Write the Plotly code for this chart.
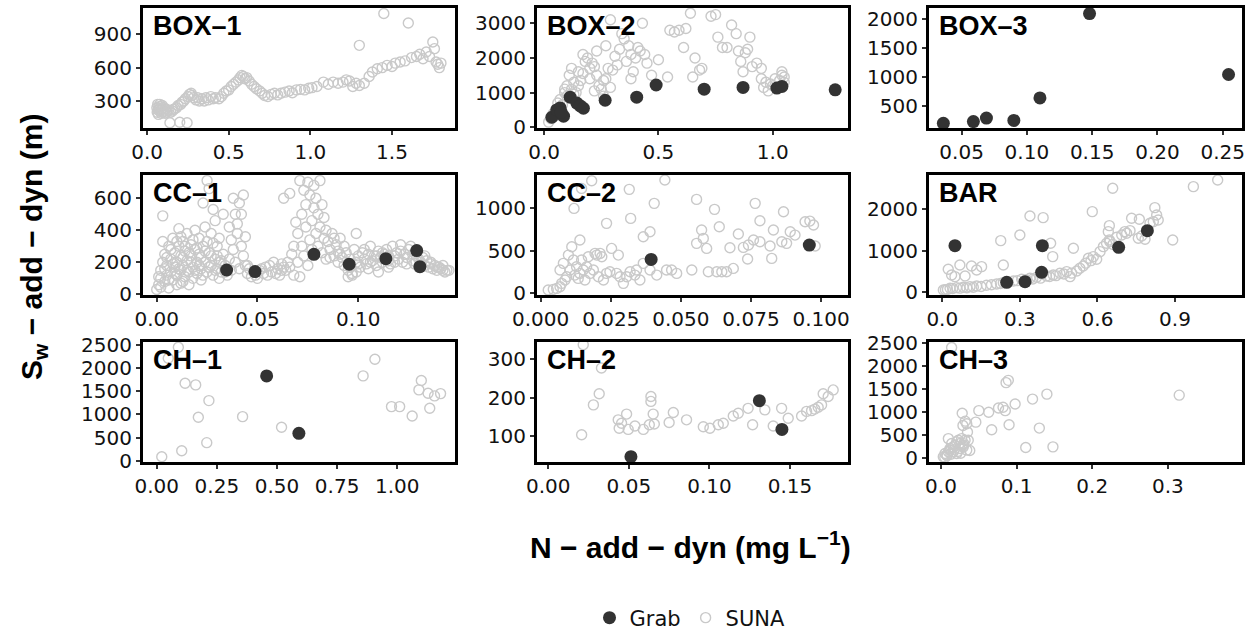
import plotly.graph_objects as go

# ---------------------------------------------------------------- data
# Each list holds (N-add-dyn [mg/L], Sw-add-dyn [m]) pairs.

box1_suna = [
    (0.06, 240), (0.062, 200), (0.065, 270), (0.068, 220), (0.07, 180), (0.072, 250),
    (0.075, 230), (0.078, 270), (0.08, 210), (0.083, 250), (0.086, 190), (0.09, 230),
    (0.093, 260), (0.096, 200), (0.1, 240), (0.105, 210), (0.11, 190), (0.115, 230),
    (0.12, 200), (0.13, 215), (0.14, 105), (0.145, 200), (0.155, 210), (0.16, 225),
    (0.17, 230), (0.18, 240), (0.19, 260), (0.2, 110), (0.205, 270), (0.215, 290),
    (0.225, 300), (0.235, 320), (0.245, 105), (0.25, 340), (0.26, 360), (0.27, 370),
    (0.275, 350), (0.285, 330), (0.3, 310), (0.31, 330), (0.32, 300), (0.335, 320),
    (0.35, 300), (0.36, 330), (0.375, 310), (0.39, 340), (0.405, 320), (0.42, 330),
    (0.44, 320), (0.455, 340), (0.47, 370), (0.485, 390), (0.5, 400), (0.515, 430),
    (0.53, 450), (0.545, 470), (0.56, 490), (0.57, 510), (0.58, 530), (0.59, 520),
    (0.6, 500), (0.61, 510), (0.625, 480), (0.64, 450), (0.655, 430), (0.67, 410),
    (0.69, 390), (0.705, 370), (0.72, 350), (0.74, 340), (0.76, 360), (0.78, 370),
    (0.8, 355), (0.82, 370), (0.845, 380), (0.87, 390), (0.89, 375), (0.915, 400),
    (0.94, 405), (0.965, 400), (0.99, 415), (1.01, 420), (1.04, 430), (1.08, 470),
    (1.11, 450), (1.14, 470), (1.17, 460), (1.2, 470), (1.22, 490), (1.24, 480),
    (1.26, 430), (1.28, 460), (1.3, 440), (1.3, 800), (1.33, 460), (1.36, 520),
    (1.38, 560), (1.41, 590), (1.44, 600), (1.45, 1085), (1.47, 620), (1.5, 610),
    (1.52, 640), (1.55, 650), (1.58, 660), (1.6, 1000), (1.62, 690), (1.65, 700),
    (1.67, 720), (1.69, 680), (1.71, 740), (1.73, 700), (1.75, 830), (1.76, 770),
    (1.77, 650), (1.78, 630), (1.79, 600), (1.8, 640),
]
box1_grab = []

box2_suna = [
    (0.02, 150), (0.03, 250), (0.04, 400), (0.05, 350), (0.06, 700), (0.07, 800),
    (0.08, 650), (0.09, 1100), (0.09, 1000), (0.1, 1200), (0.1, 900), (0.12, 1100),
    (0.13, 950), (0.14, 1000), (0.15, 1200), (0.16, 1350), (0.15, 1600), (0.17, 1550),
    (0.18, 1900), (0.17, 2100), (0.19, 2000), (0.2, 1700), (0.21, 1850), (0.22, 1750),
    (0.23, 1500), (0.24, 1200), (0.25, 1100), (0.26, 1350), (0.27, 1400), (0.28, 1700),
    (0.3, 1650), (0.31, 2050), (0.33, 2250), (0.34, 2700), (0.35, 2550), (0.36, 1900),
    (0.38, 1400), (0.39, 1600), (0.4, 2000), (0.41, 2300), (0.42, 2200), (0.43, 3000),
    (0.44, 2100), (0.45, 1850), (0.47, 1500), (0.5, 1950), (0.54, 1450), (0.55, 2800),
    (0.57, 2750), (0.59, 2800), (0.62, 2850), (0.61, 2300), (0.64, 3290), (0.65, 1450),
    (0.66, 2000), (0.68, 1650), (0.69, 1700), (0.73, 3200), (0.75, 3250), (0.76, 2600),
    (0.78, 2300), (0.8, 2300), (0.82, 2950), (0.84, 2700), (0.85, 2200), (0.86, 1900),
    (0.87, 1600), (0.88, 2150), (0.9, 2600), (0.89, 2250), (0.91, 1750), (0.93, 1850),
    (0.95, 1400), (0.95, 1700), (0.96, 1150), (0.97, 1300), (0.98, 1050), (0.99, 1250),
    (1.0, 1200), (1.01, 1400), (1.03, 1350), (1.04, 1500), (1.04, 1600), (1.05, 1450),
    (1.05, 1300), (0.32, 1800), (0.29, 1150), (0.26, 900), (0.22, 1050), (0.2, 1400),
    (0.12, 1700), (0.11, 1500), (0.13, 1300), (0.23, 2200), (0.27, 2350), (0.29, 3100),
    (0.37, 2350), (0.38, 2100),
]
box2_grab = [
    (0.034, 290), (0.055, 500), (0.07, 560), (0.085, 320), (0.075, 430), (0.114, 870),
    (0.143, 700), (0.158, 620), (0.172, 550), (0.267, 780), (0.405, 870), (0.49, 1220),
    (0.70, 1100), (0.87, 1150), (1.018, 1130), (1.04, 1180), (1.273, 1080),
]

box3_suna = []
box3_grab = [
    (0.036, 200), (0.059, 230), (0.069, 290), (0.09, 250), (0.11, 640),
    (0.148, 2100), (0.2545, 1045),
]

cc1_suna = [
    (0.0, 30), (0.001, 60), (0.002, 100), (0.002, 150), (0.003, 200), (0.003, 330),
    (0.003, 490), (0.004, 80), (0.004, 250), (0.005, 120), (0.005, 180), (0.006, 300),
    (0.006, 40), (0.007, 140), (0.007, 220), (0.008, 90), (0.008, 350), (0.009, 170),
    (0.009, 260), (0.01, 60), (0.01, 120), (0.01, 200), (0.011, 300), (0.011, 410),
    (0.012, 150), (0.012, 240), (0.013, 80), (0.013, 180), (0.013, 330), (0.014, 110),
    (0.014, 270), (0.015, 210), (0.015, 380), (0.016, 140), (0.016, 60), (0.017, 240),
    (0.017, 310), (0.018, 170), (0.018, 100), (0.019, 280), (0.019, 400), (0.02, 200),
    (0.02, 130), (0.021, 350), (0.021, 250), (0.022, 160), (0.022, 90), (0.023, 300),
    (0.023, 570), (0.024, 200), (0.024, 420), (0.025, 140), (0.025, 710), (0.026, 260),
    (0.026, 660), (0.027, 180), (0.027, 380), (0.028, 530), (0.028, 120), (0.029, 220),
    (0.029, 460), (0.03, 160), (0.03, 300), (0.031, 200), (0.031, 100), (0.032, 140),
    (0.033, 250), (0.033, 500), (0.034, 180), (0.035, 120), (0.036, 420), (0.036, 220),
    (0.037, 340), (0.037, 150), (0.038, 600), (0.038, 280), (0.039, 500), (0.039, 200),
    (0.04, 440), (0.04, 380), (0.041, 570), (0.041, 160), (0.042, 300), (0.042, 500),
    (0.043, 620), (0.043, 240), (0.044, 180), (0.044, 360), (0.045, 130), (0.046, 160),
    (0.047, 110), (0.048, 140), (0.05, 100), (0.052, 160), (0.053, 130), (0.055, 120),
    (0.056, 180), (0.057, 140), (0.058, 200), (0.06, 160), (0.061, 120), (0.062, 190),
    (0.063, 170), (0.063, 600), (0.064, 150), (0.065, 200), (0.066, 630), (0.066, 170),
    (0.067, 250), (0.068, 120), (0.068, 300), (0.069, 450), (0.07, 200), (0.07, 380),
    (0.071, 710), (0.071, 110), (0.072, 300), (0.072, 500), (0.073, 650), (0.073, 240),
    (0.074, 420), (0.074, 560), (0.075, 700), (0.075, 180), (0.076, 340), (0.076, 620),
    (0.077, 460), (0.077, 280), (0.078, 680), (0.078, 540), (0.079, 380), (0.079, 600),
    (0.08, 500), (0.08, 300), (0.081, 710), (0.081, 420), (0.082, 560), (0.082, 260),
    (0.083, 480), (0.083, 350), (0.084, 400), (0.084, 220), (0.085, 330), (0.086, 280),
    (0.087, 380), (0.088, 240), (0.089, 310), (0.09, 200), (0.09, 270), (0.091, 350),
    (0.092, 230), (0.093, 180), (0.094, 260), (0.095, 150), (0.095, 110), (0.096, 220),
    (0.097, 120), (0.097, 130), (0.098, 280), (0.099, 200), (0.099, 140), (0.099, 380),
    (0.1, 240), (0.101, 170), (0.102, 260), (0.103, 220), (0.104, 190), (0.105, 250),
    (0.106, 300), (0.107, 210), (0.108, 240), (0.109, 180), (0.11, 270), (0.111, 230),
    (0.112, 200), (0.113, 250), (0.114, 280), (0.115, 210), (0.116, 190), (0.117, 300),
    (0.118, 240), (0.119, 260), (0.12, 220), (0.121, 310), (0.122, 200), (0.123, 250),
    (0.124, 230), (0.125, 280), (0.126, 300), (0.127, 210), (0.128, 190), (0.129, 240),
    (0.13, 220), (0.131, 200), (0.132, 230), (0.133, 180), (0.134, 210), (0.135, 170),
    (0.136, 190), (0.137, 160), (0.138, 180), (0.139, 150), (0.14, 170), (0.141, 160),
    (0.142, 150), (0.143, 140), (0.144, 150),
    (0.001, 110), (0.002, 45), (0.004, 160), (0.005, 230), (0.006, 90), (0.007, 280),
    (0.008, 190), (0.009, 130), (0.01, 330), (0.011, 160), (0.012, 70), (0.012, 360),
    (0.013, 230), (0.014, 300), (0.015, 150), (0.016, 260), (0.017, 200), (0.018, 340),
    (0.019, 150), (0.02, 290), (0.021, 180), (0.022, 230), (0.023, 120), (0.024, 270),
    (0.025, 330), (0.026, 170), (0.027, 240), (0.028, 320), (0.029, 150), (0.03, 240),
    (0.031, 350), (0.032, 210), (0.034, 140), (0.045, 180), (0.049, 120), (0.051, 150),
    (0.054, 170), (0.059, 130), (0.062, 150), (0.086, 230), (0.088, 350), (0.091, 250),
    (0.093, 300), (0.096, 170), (0.1, 190), (0.103, 280), (0.106, 200), (0.109, 240),
    (0.112, 260), (0.115, 240), (0.118, 200), (0.121, 270), (0.124, 190), (0.127, 250),
    (0.13, 170), (0.133, 240), (0.136, 200), (0.139, 170), (0.142, 180), (0.145, 150),
    (0.11, 140), (0.105, 160), (0.115, 170),
]
cc1_grab = [
    (0.0347, 152), (0.0488, 142), (0.078, 250), (0.0955, 188), (0.1137, 223),
    (0.129, 273), (0.1306, 173),
]

cc2_suna = [
    (0.0027, 32), (0.0045, 40), (0.0057, 51), (0.0069, 71), (0.0075, 111), (0.0081, 348),
    (0.0069, 269), (0.0087, 150), (0.0093, 190), (0.0099, 446), (0.0105, 269), (0.0111, 545),
    (0.0117, 387), (0.0119, 999), (0.0122, 209), (0.0128, 308), (0.0134, 170), (0.014, 229),
    (0.014, 624), (0.0146, 387), (0.0146, 1236), (0.0152, 269), (0.0158, 150), (0.0164, 308),
    (0.017, 427), (0.0176, 229), (0.0182, 1327), (0.0188, 269), (0.0194, 466), (0.02, 446),
    (0.0206, 190), (0.0212, 466), (0.0218, 427), (0.0224, 150), (0.0235, 229), (0.0235, 822),
    (0.0247, 249), (0.0253, 525), (0.0271, 229), (0.0277, 446), (0.0283, 190), (0.0295, 111),
    (0.0307, 190), (0.0316, 1225), (0.0321, 881), (0.0319, 249), (0.0336, 209), (0.0342, 269),
    (0.0354, 150), (0.0366, 664), (0.0366, 348), (0.039, 723), (0.039, 269), (0.0405, 1059),
    (0.0414, 209), (0.0443, 1335), (0.0449, 269), (0.0467, 269), (0.0485, 229), (0.0539, 269),
    (0.0556, 1106), (0.0574, 743), (0.058, 644), (0.0556, 585), (0.0592, 525), (0.0598, 249),
    (0.062, 988), (0.0628, 249), (0.0637, 782), (0.0646, 249), (0.0663, 249), (0.0675, 533),
    (0.0687, 288), (0.0705, 695), (0.0723, 537), (0.0738, 399), (0.0741, 565), (0.0759, 624),
    (0.0765, 1059), (0.0782, 604), (0.0782, 853), (0.0818, 553), (0.0824, 407), (0.083, 743),
    (0.086, 604), (0.0866, 960), (0.0877, 585), (0.089, 723), (0.0907, 683), (0.0943, 841),
    (0.096, 849), (0.0973, 802), (0.0979, 553),
]
cc2_grab = [(0.0394, 395), (0.0958, 565)]

bar_suna = [
    (0.004, 56), (0.012, 60), (0.02, 70), (0.03, 96), (0.04, 90), (0.055, 112),
    (0.068, 100), (0.081, 120), (0.095, 110), (0.107, 136), (0.12, 120), (0.133, 152),
    (0.15, 140), (0.171, 168), (0.19, 180), (0.21, 200), (0.225, 210), (0.236, 232),
    (0.255, 240), (0.275, 272), (0.29, 280), (0.307, 312), (0.325, 300), (0.339, 336),
    (0.35, 320), (0.365, 360), (0.38, 340), (0.403, 392), (0.415, 380), (0.429, 416),
    (0.44, 400), (0.455, 456), (0.47, 440), (0.481, 496), (0.494, 376), (0.5, 460),
    (0.52, 512), (0.532, 576), (0.545, 632), (0.555, 700), (0.565, 816), (0.575, 760),
    (0.584, 856), (0.597, 792), (0.61, 976), (0.623, 1096), (0.635, 1176), (0.648, 1216),
    (0.66, 1150), (0.674, 1320), (0.694, 1376), (0.713, 1416), (0.726, 1480), (0.758, 1296),
    (0.771, 1352), (0.803, 1656), (0.816, 1696),
    (0.023, 552), (0.036, 416), (0.049, 376), (0.068, 656), (0.088, 392), (0.113, 632),
    (0.133, 536), (0.152, 616), (0.226, 1240), (0.236, 656), (0.3, 1376), (0.339, 1832),
    (0.39, 1792), (0.419, 1176), (0.427, 856), (0.507, 1056), (0.58, 1936), (0.659, 2496),
    (0.646, 1600), (0.642, 1456), (0.646, 1256), (0.706, 1456), (0.732, 1776), (0.762, 1752),
    (0.784, 1272), (0.822, 2032), (0.829, 1856), (0.835, 1736), (0.891, 1256), (0.971, 2536),
    (1.065, 2696),
]
bar_grab = [
    (0.049, 1120), (0.249, 240), (0.32, 256), (0.387, 1120), (0.384, 480),
    (0.682, 1080), (0.793, 1480),
]

ch1_suna = [
    (0.021, 87), (0.104, 216), (0.208, 390), (0.173, 938), (0.217, 1299), (0.118, 1674),
    (0.162, 1638), (0.09, 2450), (0.048, 2215), (0.357, 952), (0.519, 722), (0.858, 1833),
    (0.907, 2193), (0.976, 1169), (1.01, 1169), (1.062, 967), (1.1, 1732), (1.09, 1530),
    (1.128, 1457), (1.135, 1133), (1.18, 1450), (1.155, 1400),
]
ch1_grab = [(0.457, 1833), (0.591, 592)]

ch2_suna = [
    (0.0207, 103), (0.0217, 338), (0.028, 181), (0.0316, 210), (0.033, 277), (0.0434, 142),
    (0.044, 120), (0.0455, 133), (0.0486, 157), (0.0496, 117), (0.0538, 126), (0.059, 117),
    (0.0627, 129), (0.0637, 203), (0.0637, 190), (0.0651, 157), (0.0658, 131), (0.075, 135),
    (0.0776, 161), (0.0858, 142), (0.0962, 124), (0.1003, 120), (0.1055, 129), (0.1086, 133),
    (0.1148, 152), (0.1179, 159), (0.124, 172), (0.1268, 129), (0.1344, 168), (0.1448, 172),
    (0.1396, 126), (0.1489, 146), (0.1572, 152), (0.1603, 164), (0.1634, 166), (0.1654, 170),
    (0.1675, 175), (0.1696, 181), (0.1706, 210), (0.1737, 203), (0.1768, 220),
]
ch2_grab = [(0.0513, 46), (0.131, 192), (0.145, 117)]

ch3_suna = [
    (0.003, 36), (0.0053, 107), (0.0075, 72), (0.0097, 143), (0.0119, 179), (0.0141, 322),
    (0.0163, 250), (0.0185, 286), (0.0207, 358), (0.0229, 393), (0.0251, 322), (0.0273, 429),
    (0.0295, 250), (0.0318, 393), (0.034, 179), (0.0207, 107), (0.0163, 143), (0.0119, 215),
    (0.0251, 215), (0.0295, 286), (0.036, 393), (0.0097, 429), (0.005, 20), (0.008, 60),
    (0.013, 90), (0.018, 200), (0.022, 150), (0.026, 110), (0.03, 320), (0.038, 170),
    (0.014, 2410), (0.086, 1645), (0.089, 1695), (0.14, 1395), (0.121, 1288), (0.098, 1180),
    (0.082, 1109), (0.076, 1094), (0.085, 1037), (0.063, 1001), (0.05, 1037), (0.028, 980),
    (0.032, 808), (0.034, 751), (0.029, 715), (0.046, 787), (0.035, 572), (0.067, 622),
    (0.09, 730), (0.13, 658), (0.112, 236), (0.148, 250), (0.315, 1373),
]
ch3_grab = []

# tick positions and labels per panel
box1_xticks, box1_xlabels = [0, 0.5, 1.0, 1.5], ["0.0", "0.5", "1.0", "1.5"]
box1_yticks = [300, 600, 900]
box2_xticks, box2_xlabels = [0, 0.5, 1.0], ["0.0", "0.5", "1.0"]
box2_yticks = [0, 1000, 2000, 3000]
box3_xticks, box3_xlabels = [0.05, 0.10, 0.15, 0.20, 0.25], ["0.05", "0.10", "0.15", "0.20", "0.25"]
box3_yticks = [500, 1000, 1500, 2000]
cc1_xticks, cc1_xlabels = [0, 0.05, 0.10], ["0.00", "0.05", "0.10"]
cc1_yticks = [0, 200, 400, 600]
cc2_xticks, cc2_xlabels = [0, 0.025, 0.05, 0.075, 0.1], ["0.000", "0.025", "0.050", "0.075", "0.100"]
cc2_yticks = [0, 500, 1000]
bar_xticks, bar_xlabels = [0, 0.3, 0.6, 0.9], ["0.0", "0.3", "0.6", "0.9"]
bar_yticks = [0, 1000, 2000]
ch1_xticks, ch1_xlabels = [0, 0.25, 0.5, 0.75, 1.0], ["0.00", "0.25", "0.50", "0.75", "1.00"]
ch1_yticks = [0, 500, 1000, 1500, 2000, 2500]
ch2_xticks, ch2_xlabels = [0, 0.05, 0.10, 0.15], ["0.00", "0.05", "0.10", "0.15"]
ch2_yticks = [100, 200, 300]
ch3_xticks, ch3_xlabels = [0, 0.1, 0.2, 0.3], ["0.0", "0.1", "0.2", "0.3"]
ch3_yticks = [0, 500, 1000, 1500, 2000, 2500]

site_names = ["BOX–1", "BOX–2", "BOX–3", "CC–1", "CC–2", "BAR", "CH–1", "CH–2", "CH–3"]

# ---------------------------------------------------------------- layout
W, H = 1255, 638
GRAB_COLOR = "#333333"
SUNA_COLOR = "#c9c9c9"
TICK_FONT = dict(family="DejaVu Sans", size=20, color="#111111")
TITLE_FONT = "Liberation Sans, Arial, sans-serif"

col_px = [(143, 455), (537, 848), (929, 1242)]
row_px = [(8, 128), (175, 295), (342, 462)]

panels = [
    (box1_suna, box1_grab, [-0.025, 1.886], [58, 1135], box1_xticks, box1_xlabels, box1_yticks),
    (box2_suna, box2_grab, [-0.031, 1.329], [-20, 3440], box2_xticks, box2_xlabels, box2_yticks),
    (box3_suna, box3_grab, [0.025, 0.2648], [119, 2196], box3_xticks, box3_xlabels, box3_yticks),
    (cc1_suna, cc1_grab, [-0.0068, 0.148], [-4, 745], cc1_xticks, cc1_xlabels, cc1_yticks),
    (cc2_suna, cc2_grab, [-0.0013, 0.1096], [-27, 1395], cc2_xticks, cc2_xlabels, cc2_yticks),
    (bar_suna, bar_grab, [-0.0514, 1.159], [-65, 2815], bar_xticks, bar_xlabels, bar_yticks),
    (ch1_suna, ch1_grab, [-0.057, 1.24], [-28, 2565], ch1_xticks, ch1_xlabels, ch1_yticks),
    (ch2_suna, ch2_grab, [-0.007, 0.186], [32, 345], ch2_xticks, ch2_xlabels, ch2_yticks),
    (ch3_suna, ch3_grab, [-0.0159, 0.398], [-79, 2528], ch3_xticks, ch3_xlabels, ch3_yticks),
]

fig = go.Figure()
layout = {}
annotations = []
legend_done = {"Grab": False, "SUNA": False}

for i, (suna, grab, xr, yr, xt, xl, yt) in enumerate(panels):
    r, c = divmod(i, 3)
    n = "" if i == 0 else str(i + 1)
    x0, x1 = col_px[c]
    y0, y1 = row_px[r]

    axis_common = dict(
        showline=True, linewidth=3, linecolor="black", mirror=True,
        ticks="outside", ticklen=4, tickwidth=1.5, tickcolor="#333333",
        showgrid=False, zeroline=False, tickfont=TICK_FONT, fixedrange=True,
        automargin=False,
    )
    layout["xaxis" + n] = dict(
        axis_common, domain=[x0 / W, x1 / W], anchor="y" + n, range=xr,
        tickmode="array", tickvals=xt, ticktext=xl,
    )
    layout["yaxis" + n] = dict(
        axis_common, domain=[1 - y1 / H, 1 - y0 / H], anchor="x" + n, range=yr,
        tickmode="array", tickvals=yt, ticktext=[str(v) for v in yt],
    )

    if suna:
        fig.add_trace(go.Scatter(
            x=[p[0] for p in suna], y=[p[1] for p in suna], mode="markers",
            xaxis="x" + n, yaxis="y" + n, name="SUNA", legendgroup="SUNA", legendrank=2,
            showlegend=not legend_done["SUNA"],
            marker=dict(symbol="circle-open", size=10, color=SUNA_COLOR, line=dict(width=1.4)),
        ))
        legend_done["SUNA"] = True
    if grab:
        fig.add_trace(go.Scatter(
            x=[p[0] for p in grab], y=[p[1] for p in grab], mode="markers",
            xaxis="x" + n, yaxis="y" + n, name="Grab", legendgroup="Grab", legendrank=1,
            showlegend=not legend_done["Grab"],
            marker=dict(symbol="circle", size=13, color=GRAB_COLOR, line=dict(width=0)),
        ))
        legend_done["Grab"] = True

    annotations.append(dict(
        text="<b>%s</b>" % site_names[i], xref="paper", yref="paper",
        x=(x0 + 8) / W, y=1 - (y0 + 1) / H, xanchor="left", yanchor="top",
        showarrow=False, font=dict(family=TITLE_FONT, size=27, color="black"),
    ))

annotations.append(dict(
    text="<b>N − add − dyn (mg L<sup>−1</sup>)</b>", xref="paper", yref="paper",
    x=690 / W, y=1 - 545 / H, xanchor="center", yanchor="middle", showarrow=False,
    font=dict(family=TITLE_FONT, size=30, color="black"),
))
annotations.append(dict(
    text="<b>S<sub>w</sub> − add − dyn (m)</b>", xref="paper", yref="paper",
    x=33 / W, y=1 - 247 / H, xanchor="center", yanchor="middle", textangle=-90,
    showarrow=False, font=dict(family=TITLE_FONT, size=30, color="black"),
))

fig.update_layout(
    **layout,
    template="none",
    annotations=annotations,
    width=W, height=H, autosize=False,
    margin=dict(l=0, r=0, t=0, b=0, autoexpand=False),
    paper_bgcolor="white", plot_bgcolor="white",
    showlegend=True,
    legend=dict(
        orientation="h", x=690 / W, xanchor="center", y=1 - 618 / H, yanchor="middle",
        font=dict(family="DejaVu Sans", size=21, color="#111111"),
        bgcolor="rgba(0,0,0,0)", tracegroupgap=0,
    ),
)

fig.write_html("out.html")
